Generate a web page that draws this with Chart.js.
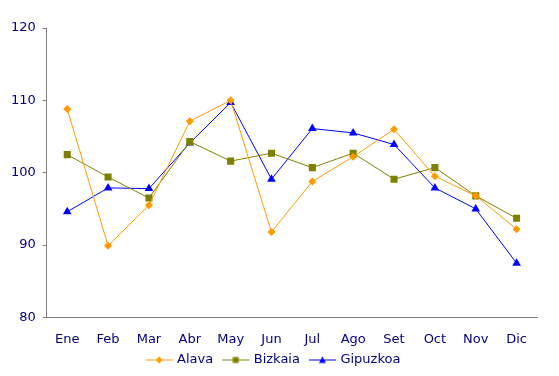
<!DOCTYPE html>
<html><head><meta charset="utf-8">
<script src="https://cdn.jsdelivr.net/npm/chart.js@4"></script>
<style>html,body{margin:0;padding:0;background:#fff}#wrap{width:559px;height:376px}</style>
</head><body><div id="wrap"><canvas id="c" width="559" height="376"></canvas></div>
<script>
const categories = ["Ene","Feb","Mar","Abr","May","Jun","Jul","Ago","Set","Oct","Nov","Dic"];
const alava    = [108.8, 89.9, 95.5, 107.1, 110.0, 91.8, 98.8, 102.2, 106.0, 99.5, 96.8, 92.2];
const bizkaia  = [102.5, 99.4, 96.5, 104.3, 101.6, 102.7, 100.7, 102.7, 99.1, 100.7, 96.8, 93.7];
const gipuzkoa = [94.6, 97.9, 97.8, 104.1, 109.7, 99.1, 106.1, 105.5, 103.9, 97.9, 95.0, 87.5];
const yTicks = [80, 90, 100, 110, 120];

const navy = '#000080';
const FONT = "'DejaVu Sans', Verdana, sans-serif";

function legendIcon(color, style) {
  const c = document.createElement('canvas');
  c.width = 40; c.height = 10;
  const g = c.getContext('2d');
  g.strokeStyle = color; g.lineWidth = 1;
  g.beginPath(); g.moveTo(10, 5.5); g.lineTo(37, 5.5); g.stroke();
  g.fillStyle = color;
  const cx = 23.5, cy = 5.5;
  g.beginPath();
  if (style === 'rectRot') { g.moveTo(cx, cy-3.5); g.lineTo(cx+3.5, cy); g.lineTo(cx, cy+3.5); g.lineTo(cx-3.5, cy); }
  else if (style === 'rect') { g.rect(cx-3, cy-3, 6, 6); }
  else { g.moveTo(cx, cy-3.5); g.lineTo(cx+3.5, cy+3); g.lineTo(cx-3.5, cy+3); }
  g.closePath(); g.fill();
  return c;
}

const series = [
  {label:'Alava', data:alava, color:'#FF9900', style:'rectRot', r:4},
  {label:'Bizkaia', data:bizkaia, color:'#808000', style:'rect', r:5},
  {label:'Gipuzkoa', data:gipuzkoa, color:'#0000FF', style:'triangle', r:5}
];

new Chart(document.getElementById('c'), {
  type: 'line',
  data: {
    labels: categories,
    datasets: series.map(s => ({
      label: s.label, data: s.data,
      borderColor: s.color, backgroundColor: s.color,
      borderWidth: 1, pointStyle: s.style, pointRadius: s.r,
      pointBorderWidth: 0, pointBackgroundColor: s.color, tension: 0,
      legendIcon: legendIcon(s.color, s.style)
    }))
  },
  options: {
    responsive: false, animation: false,
    layout: {padding: {left: 4, right: 22, top: 28, bottom: 0}},
    plugins: {
      tooltip: {enabled: false},
      legend: {
        position: 'bottom',
        labels: {
          usePointStyle: true, pointStyleWidth: 30, padding: 4,
          color: navy, font: {family: FONT, size: 13},
          generateLabels(chart) {
            return chart.data.datasets.map((d, i) => ({
              text: d.label, fillStyle: d.borderColor, strokeStyle: d.borderColor,
              pointStyle: d.legendIcon, lineWidth: 0, datasetIndex: i, fontColor: navy
            }));
          }
        }
      }
    },
    scales: {
      x: {
        offset: true,
        afterFit(scale) { scale.height -= 12; },
        grid: {display: true, drawOnChartArea: false, drawTicks: false},
        border: {color: '#808080', width: 1},
        ticks: {color: navy, font: {family: FONT, size: 13}, padding: 14, maxRotation: 0}
      },
      y: {
        min: 80, max: 120,
        afterBuildTicks(axis) { axis.ticks = yTicks.map(v => ({value: v})); },
        grid: {display: true, drawOnChartArea: false, drawTicks: true, tickLength: 4, color: '#808080'},
        border: {color: '#808080', width: 1},
        ticks: {color: navy, font: {family: FONT, size: 13}, padding: 7}
      }
    }
  }
});
</script></body></html>
